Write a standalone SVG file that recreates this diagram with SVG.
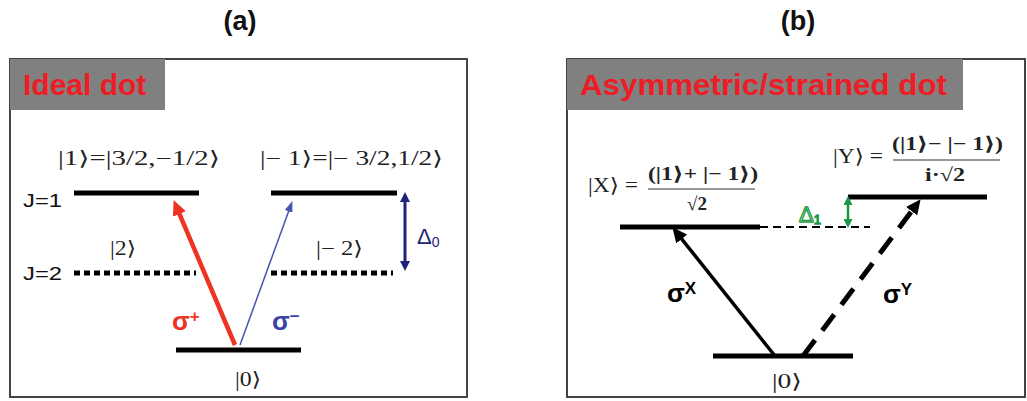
<svg xmlns="http://www.w3.org/2000/svg" width="1027" height="401" viewBox="0 0 1027 401">
<style>
.title{font-family:"Liberation Sans",Arial,sans-serif;font-weight:bold;font-size:27px;fill:#111}
.tag{font-family:"Liberation Sans",Arial,sans-serif;font-weight:bold;font-size:30px;fill:#ee1c24}
.jl{font-family:"Liberation Sans",Arial,sans-serif;font-size:19px;fill:#111}
.ket{font-family:"Liberation Serif","DejaVu Serif",serif;font-size:20px;fill:#222}
.ketb{font-family:"Liberation Serif","DejaVu Serif",serif;font-size:19px;font-weight:bold;fill:#222}
.sig{font-family:"Liberation Sans",Arial,sans-serif;font-weight:bold;font-size:26px}
.sup{font-family:"Liberation Sans",Arial,sans-serif;font-size:17px}
.lvl{stroke:#000;stroke-width:5;fill:none}
.dot{stroke:#000;stroke-width:5;stroke-dasharray:6 4;fill:none}
.box{fill:#fff;stroke:#444;stroke-width:2}
</style>
<defs>
<marker id="hRed" markerUnits="userSpaceOnUse" markerWidth="16" markerHeight="14" refX="6" refY="7" orient="auto"><path d="M0,0 L15,7 L0,14 z" fill="#ee3322"/></marker>
<marker id="hBlue" markerUnits="userSpaceOnUse" markerWidth="11" markerHeight="8" refX="5" refY="4" orient="auto"><path d="M0,0 L11,4 L0,8 z" fill="#4a52b0"/></marker>
<marker id="hNavy" markerUnits="userSpaceOnUse" markerWidth="10" markerHeight="10" refX="4" refY="5" orient="auto-start-reverse"><path d="M0,0 L10,5 L0,10 z" fill="#1e237a"/></marker>
<marker id="hGreen" markerUnits="userSpaceOnUse" markerWidth="9" markerHeight="9" refX="4" refY="4.5" orient="auto-start-reverse"><path d="M0,0 L9,4.5 L0,9 z" fill="#1a9a40"/></marker>
<marker id="hBlack" markerUnits="userSpaceOnUse" markerWidth="16" markerHeight="14" refX="6" refY="7" orient="auto"><path d="M0,0 L15,7 L0,14 z" fill="#000"/></marker>
</defs>
<rect width="1027" height="401" fill="#fff"/>

<!-- Panel (a) -->
<g id="panel-a">
<text class="title" x="240" y="30" text-anchor="middle">(a)</text>
<rect class="box" x="10" y="59" width="457" height="338"/>
<rect x="10" y="59" width="155" height="51" fill="#808080"/>
<text class="tag" x="23" y="95">Ideal dot</text>
</g>
<g id="a-J1-left"><line class="lvl" x1="74" y1="193" x2="199" y2="193"/>
<text class="ket" x="58" y="165" textLength="162" lengthAdjust="spacingAndGlyphs">|1⟩=|3/2,−1/2⟩</text></g>
<g id="a-J1-right"><line class="lvl" x1="271" y1="193" x2="397" y2="193"/>
<text class="ket" x="260" y="165" textLength="183" lengthAdjust="spacingAndGlyphs">|− 1⟩=|− 3/2,1/2⟩</text></g>
<g id="a-J2-left"><line class="dot" x1="74" y1="273" x2="196" y2="273"/>
<text class="ket" x="110" y="255" textLength="26" lengthAdjust="spacingAndGlyphs">|2⟩</text></g>
<g id="a-J2-right"><line class="dot" x1="271" y1="273" x2="393" y2="273"/>
<text class="ket" x="316" y="255" textLength="47" lengthAdjust="spacingAndGlyphs">|− 2⟩</text></g>
<g id="a-ground"><line class="lvl" x1="176" y1="350" x2="301" y2="350"/>
<text class="ket" x="235" y="386" textLength="26" lengthAdjust="spacingAndGlyphs">|0⟩</text></g>
<text class="jl" x="23" y="207" textLength="39" lengthAdjust="spacingAndGlyphs">J=1</text>
<text class="jl" x="23" y="280" textLength="39" lengthAdjust="spacingAndGlyphs">J=2</text>

<g id="a-connectors">
<line x1="235" y1="345" x2="177.1" y2="208.4" stroke="#ee3322" stroke-width="4.5" marker-end="url(#hRed)"/>
<line x1="240" y1="345" x2="290.3" y2="206.7" stroke="#4a52b0" stroke-width="1.5" marker-end="url(#hBlue)"/>
<line x1="405" y1="198" x2="405" y2="265" stroke="#1e237a" stroke-width="3" marker-start="url(#hNavy)" marker-end="url(#hNavy)"/>
</g>
<text class="sig" x="172" y="330" fill="#ee3322">σ<tspan class="sup" dy="-8">+</tspan></text>
<text class="sig" x="272" y="330" fill="#3a44a8">σ<tspan class="sup" dy="-8">−</tspan></text>
<text x="417" y="244" font-family="Liberation Sans,Arial,sans-serif" font-size="22" fill="#1e237a">Δ<tspan font-size="14" dy="3">0</tspan></text>

<!-- Panel (b) -->
<g id="panel-b">
<text class="title" x="798" y="30" text-anchor="middle">(b)</text>
<rect class="box" x="567" y="59" width="458" height="338"/>
<rect x="567" y="59" width="396" height="51" fill="#808080"/>
<text class="tag" x="580" y="95" textLength="367" lengthAdjust="spacingAndGlyphs">Asymmetric/strained dot</text>
</g>
<g id="b-X">
<line class="lvl" x1="620" y1="227" x2="760" y2="227"/>
<text class="ket" x="588" y="192" textLength="50" lengthAdjust="spacingAndGlyphs">|X⟩ =</text>
<text class="ketb" x="648" y="180" textLength="110" lengthAdjust="spacingAndGlyphs">(|1⟩+ |− 1⟩)</text>
<line x1="648" y1="189" x2="755" y2="189" stroke="#333" stroke-width="1"/>
<text class="ketb" x="687" y="210">√2</text>
</g>
<g id="b-Y">
<line class="lvl" x1="848" y1="197" x2="987" y2="197"/>
<text class="ket" x="833" y="163" textLength="50" lengthAdjust="spacingAndGlyphs">|Y⟩ =</text>
<text class="ketb" x="892" y="150" textLength="111" lengthAdjust="spacingAndGlyphs">(|1⟩− |− 1⟩)</text>
<line x1="893" y1="160" x2="1000" y2="160" stroke="#333" stroke-width="1"/>
<text class="ketb" x="925" y="181" textLength="40" lengthAdjust="spacingAndGlyphs">i·√2</text>
</g>
<g id="b-ground">
<line class="lvl" x1="713" y1="356" x2="853" y2="356"/>
<text class="ket" x="772" y="388" textLength="30" lengthAdjust="spacingAndGlyphs">|0⟩</text>
</g>
<g id="b-connectors">
<line x1="760" y1="227" x2="870" y2="227" stroke="#000" stroke-width="2" stroke-dasharray="8 5"/>
<line x1="775" y1="356" x2="678" y2="234.3" stroke="#000" stroke-width="3.5" marker-end="url(#hBlack)"/>
<line x1="803" y1="356" x2="915.2" y2="206.4" stroke="#000" stroke-width="5" stroke-dasharray="20 12" marker-end="url(#hBlack)"/>
<line x1="848" y1="201" x2="848" y2="223" stroke="#1a9a40" stroke-width="2.5" marker-start="url(#hGreen)" marker-end="url(#hGreen)"/>
</g>
<text x="799" y="222" font-family="Liberation Sans,Arial,sans-serif" font-size="22" fill="none" stroke="#1a9a40" stroke-width="1.3">Δ<tspan font-size="13" dy="2">1</tspan></text>
<text class="sig" x="667" y="302" fill="#000">σ<tspan class="sup" dy="-8">X</tspan></text>
<text class="sig" x="883" y="303" fill="#000">σ<tspan class="sup" dy="-8">Y</tspan></text>
</svg>
